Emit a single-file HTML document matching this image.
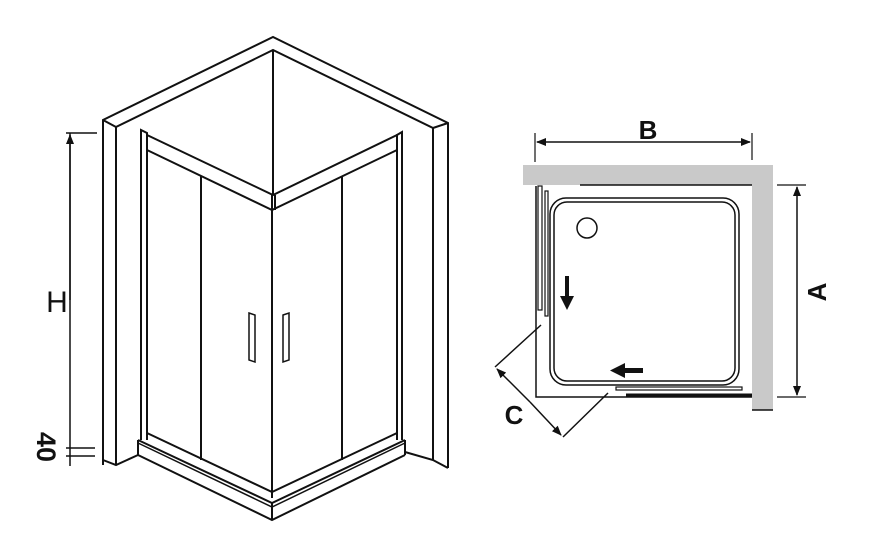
<!DOCTYPE html>
<html><head><meta charset="utf-8"><style>
html,body{margin:0;padding:0;background:#fff;}
svg{display:block;}
text{font-family:"Liberation Sans",sans-serif;}
</style></head><body>
<svg width="882" height="542" viewBox="0 0 882 542" xmlns="http://www.w3.org/2000/svg">
<defs>
<marker id="ah" markerWidth="10" markerHeight="8" refX="9" refY="4" orient="auto" markerUnits="userSpaceOnUse">
<path d="M0,0 L10,4 L0,8 z" fill="#111"/></marker>
</defs>
<g fill="none" stroke="#111" stroke-width="2" stroke-linejoin="miter">
<path d="M103,465 L103,120 L273,37 L448,123 L448,468"/>
<path d="M116,465 L116,127 L273,50 L433,128 L433,460"/>
<line x1="103" y1="120" x2="116" y2="127"/>
<line x1="448" y1="123" x2="433" y2="128"/>
<line x1="273" y1="50" x2="273" y2="195"/>
<path d="M103,460 L116,465 L138,455"/>
<path d="M448,468 L433,460 L405,452"/>
<path d="M141,440 L141,130 L147,133 L147,440"/>
<path d="M402,440 L402,132 L397,135 L397,440"/>
<path d="M147,135 L273,195 L397,135"/>
<path d="M147,150 L272,210 L397,150"/>
<line x1="272" y1="195" x2="272" y2="498"/>
<line x1="275" y1="195" x2="275" y2="210"/>
<line x1="201" y1="176" x2="201" y2="460"/>
<line x1="342" y1="176" x2="342" y2="460"/>
<path d="M147,433 L272,492 L397,433"/>
<path d="M138,440 L272,503 L405,440"/>
<path d="M138,443 L272,507 L405,443" stroke-width="1.5"/>
<path d="M138,455 L272,520 L405,455"/>
<line x1="138" y1="440" x2="138" y2="455"/>
<line x1="405" y1="440" x2="405" y2="455"/>
<line x1="272" y1="503" x2="272" y2="520"/>
<path d="M249,313 L255,315 L255,362 L249,360 z" stroke-width="1.5"/>
<path d="M283,315 L289,313 L289,360 L283,362 z" stroke-width="1.5"/>
</g>
<g stroke="#111" stroke-width="1.5" fill="none">
<line x1="66" y1="133" x2="97" y2="133"/>
<line x1="70" y1="133" x2="70" y2="466" />
<line x1="70" y1="300" x2="70" y2="135" marker-end="url(#ah)"/>
<line x1="66" y1="448" x2="95" y2="448"/>
<line x1="66" y1="456" x2="95" y2="456"/>
</g>
<text x="57" y="312" font-size="30" text-anchor="middle" fill="#111">H</text>
<text transform="translate(37,447) rotate(90)" font-size="27" font-weight="bold" text-anchor="middle" fill="#111">40</text>

<rect x="523" y="165" width="250" height="20" fill="#c9c9c9"/>
<rect x="752" y="165" width="21" height="245" fill="#c9c9c9"/>
<g stroke="#111" fill="none">
<line x1="535" y1="133" x2="535" y2="162" stroke-width="1.2"/>
<line x1="752" y1="133" x2="752" y2="160" stroke-width="1.2"/>
<line x1="590" y1="142" x2="537" y2="142" stroke-width="1.5" marker-end="url(#ah)"/>
<line x1="700" y1="142" x2="750" y2="142" stroke-width="1.5" marker-end="url(#ah)"/>
<line x1="590" y1="142" x2="700" y2="142" stroke-width="1.5"/>
<line x1="777" y1="185" x2="806" y2="185" stroke-width="1.2"/>
<line x1="777" y1="397" x2="806" y2="397" stroke-width="1.2"/>
<line x1="797" y1="290" x2="797" y2="187" stroke-width="1.5" marker-end="url(#ah)"/>
<line x1="797" y1="290" x2="797" y2="395" stroke-width="1.5" marker-end="url(#ah)"/>
<line x1="580" y1="185" x2="752" y2="185" stroke-width="1.5"/>
<line x1="752" y1="410" x2="773" y2="410" stroke-width="1.5"/>
<path d="M536,186 L536,397 L752,397" stroke-width="1.5"/>
<rect x="550" y="198" width="189" height="187" rx="16" stroke-width="1.5"/>
<rect x="554" y="202" width="181" height="179" rx="13" stroke-width="1.5"/>
<circle cx="587" cy="228" r="10" stroke-width="1.5"/>
<rect x="538" y="186" width="4" height="124" stroke-width="1.2"/>
<rect x="545" y="191" width="3" height="125" stroke-width="1.2"/>
<rect x="616" y="387" width="126" height="3" stroke-width="1.2"/>
<line x1="626" y1="395" x2="752" y2="395" stroke-width="3"/>
<line x1="541" y1="325" x2="495" y2="367" stroke-width="1.5"/>
<line x1="608" y1="393" x2="563" y2="437" stroke-width="1.5"/>
<line x1="530" y1="402" x2="497" y2="369" stroke-width="1.5" marker-end="url(#ah)"/>
<line x1="530" y1="402" x2="561" y2="435" stroke-width="1.5" marker-end="url(#ah)"/>
</g>
<g fill="#111">
<rect x="565" y="276" width="4" height="22"/>
<path d="M560,296 L574,296 L567,310 z"/>
<rect x="623" y="368" width="20" height="5"/>
<path d="M625,363 L625,378 L610,370.5 z"/>
</g>
<text x="648" y="139" font-size="26" font-weight="bold" text-anchor="middle" fill="#111">B</text>
<text transform="translate(826,292) rotate(-90)" font-size="26" font-weight="bold" text-anchor="middle" fill="#111">A</text>
<text x="514" y="424" font-size="26" font-weight="bold" text-anchor="middle" fill="#111">C</text>
</svg>
</body></html>
